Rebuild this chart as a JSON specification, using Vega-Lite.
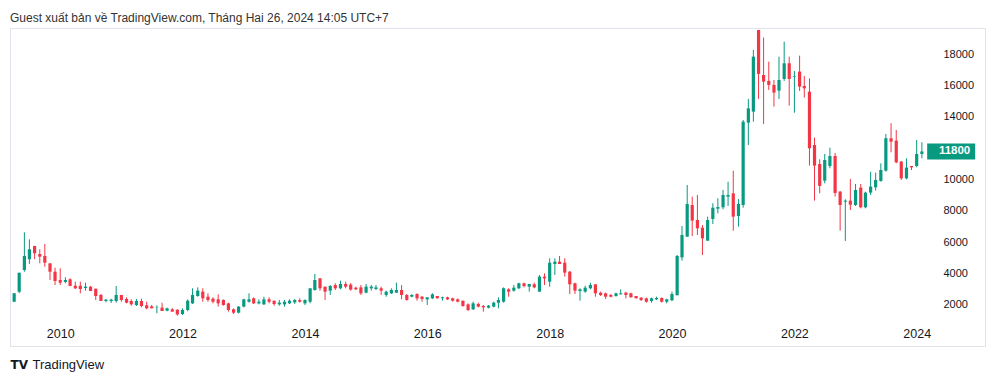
{
"$schema": "https://vega.github.io/schema/vega-lite/v6.json",
"width": 975, "height": 318,
"autosize": "none",
"padding": {"left": 10, "top": 28, "right": 11, "bottom": 36},
"background": "white",
"title": {"text": "Guest xuất bản về TradingView.com, Tháng Hai 26, 2024 14:05 UTC+7", "anchor": "start", "frame": "group", "orient": "top", "offset": 9, "dy": 15, "font": "Liberation Sans", "fontSize": 12, "fontWeight": "normal", "color": "#333333", "baseline": "alphabetic"},
"config": {"view": {"stroke": "#e0e3eb", "strokeWidth": 1}, "axis": {"grid": false}},
"resolve": {"axis": {"y": "independent"}},
"data": {"format": {"parse": {"date": "date"}}, "values": [
{"date":"2009-04-01","open":2200,"high":2750,"low":2200,"close":2750},
{"date":"2009-05-01","open":2850,"high":4060,"low":2750,"close":4060},
{"date":"2009-06-01","open":4230,"high":6640,"low":4125,"close":5130},
{"date":"2009-07-01","open":4920,"high":6190,"low":4620,"close":5555},
{"date":"2009-08-01","open":5770,"high":5770,"low":4920,"close":5300},
{"date":"2009-09-01","open":5255,"high":5555,"low":4660,"close":5085},
{"date":"2009-10-01","open":5130,"high":5895,"low":4445,"close":4700},
{"date":"2009-11-01","open":4660,"high":4660,"low":3595,"close":4125},
{"date":"2009-12-01","open":4125,"high":4380,"low":3275,"close":3530},
{"date":"2010-01-01","open":3595,"high":4345,"low":3275,"close":3425},
{"date":"2010-02-01","open":3470,"high":3770,"low":3385,"close":3595},
{"date":"2010-03-01","open":3640,"high":3705,"low":3210,"close":3210},
{"date":"2010-04-01","open":3230,"high":3490,"low":3020,"close":3065},
{"date":"2010-05-01","open":3230,"high":3490,"low":2745,"close":3020},
{"date":"2010-06-01","open":3085,"high":3425,"low":2915,"close":3170},
{"date":"2010-07-01","open":3170,"high":3210,"low":2895,"close":2895},
{"date":"2010-08-01","open":3040,"high":3040,"low":2320,"close":2575},
{"date":"2010-09-01","open":2640,"high":2700,"low":2255,"close":2255},
{"date":"2010-10-01","open":2255,"high":2385,"low":2170,"close":2340},
{"date":"2010-11-01","open":2255,"high":2400,"low":2130,"close":2340},
{"date":"2010-12-01","open":2255,"high":3210,"low":2150,"close":2640},
{"date":"2011-01-01","open":2640,"high":2640,"low":2210,"close":2320},
{"date":"2011-02-01","open":2385,"high":2490,"low":2105,"close":2150},
{"date":"2011-03-01","open":2255,"high":2365,"low":1955,"close":2045},
{"date":"2011-04-01","open":2000,"high":2385,"low":1940,"close":2255},
{"date":"2011-05-01","open":2255,"high":2400,"low":1855,"close":1935},
{"date":"2011-06-01","open":1980,"high":2210,"low":1725,"close":1790},
{"date":"2011-07-01","open":1915,"high":2000,"low":1790,"close":1790},
{"date":"2011-08-01","open":1810,"high":1980,"low":1470,"close":1830},
{"date":"2011-09-01","open":1830,"high":2145,"low":1615,"close":1615},
{"date":"2011-10-01","open":1635,"high":1830,"low":1600,"close":1790},
{"date":"2011-11-01","open":1725,"high":1800,"low":1575,"close":1575},
{"date":"2011-12-01","open":1700,"high":1720,"low":1320,"close":1400},
{"date":"2012-01-01","open":1425,"high":1785,"low":1360,"close":1680},
{"date":"2012-02-01","open":1680,"high":2360,"low":1600,"close":2275},
{"date":"2012-03-01","open":2105,"high":3065,"low":2065,"close":2640},
{"date":"2012-04-01","open":2575,"high":3125,"low":2530,"close":2915},
{"date":"2012-05-01","open":2850,"high":3065,"low":2210,"close":2425},
{"date":"2012-06-01","open":2530,"high":2745,"low":2210,"close":2320},
{"date":"2012-07-01","open":2405,"high":2490,"low":2105,"close":2210},
{"date":"2012-08-01","open":2360,"high":2680,"low":1895,"close":2105},
{"date":"2012-09-01","open":2320,"high":2360,"low":1955,"close":2000},
{"date":"2012-10-01","open":2105,"high":2150,"low":1575,"close":1680},
{"date":"2012-11-01","open":1725,"high":1785,"low":1425,"close":1510},
{"date":"2012-12-01","open":1510,"high":1935,"low":1465,"close":1895},
{"date":"2013-01-01","open":1895,"high":2405,"low":1850,"close":2360},
{"date":"2013-02-01","open":2210,"high":2745,"low":2150,"close":2360},
{"date":"2013-03-01","open":2425,"high":2490,"low":2065,"close":2105},
{"date":"2013-04-01","open":2105,"high":2360,"low":2040,"close":2210},
{"date":"2013-05-01","open":2040,"high":2530,"low":2000,"close":2360},
{"date":"2013-06-01","open":2360,"high":2490,"low":2105,"close":2210},
{"date":"2013-07-01","open":2275,"high":2275,"low":1955,"close":2065},
{"date":"2013-08-01","open":2040,"high":2320,"low":1955,"close":2150},
{"date":"2013-09-01","open":2040,"high":2320,"low":1895,"close":2210},
{"date":"2013-10-01","open":2105,"high":2360,"low":2065,"close":2275},
{"date":"2013-11-01","open":2170,"high":2385,"low":2065,"close":2320},
{"date":"2013-12-01","open":2320,"high":2425,"low":2150,"close":2210},
{"date":"2014-01-01","open":2105,"high":2360,"low":2000,"close":2320},
{"date":"2014-02-01","open":2210,"high":3065,"low":2105,"close":3065},
{"date":"2014-03-01","open":2955,"high":3980,"low":2915,"close":3595},
{"date":"2014-04-01","open":3700,"high":3700,"low":2915,"close":3065},
{"date":"2014-05-01","open":3170,"high":3170,"low":2320,"close":2850},
{"date":"2014-06-01","open":2915,"high":3275,"low":2640,"close":3210},
{"date":"2014-07-01","open":3275,"high":3385,"low":2955,"close":3065},
{"date":"2014-08-01","open":3065,"high":3555,"low":3000,"close":3340},
{"date":"2014-09-01","open":3340,"high":3490,"low":3065,"close":3170},
{"date":"2014-10-01","open":3300,"high":3400,"low":2915,"close":2980},
{"date":"2014-11-01","open":3105,"high":3170,"low":2955,"close":3000},
{"date":"2014-12-01","open":3125,"high":3275,"low":2640,"close":2745},
{"date":"2015-01-01","open":2785,"high":3340,"low":2745,"close":3170},
{"date":"2015-02-01","open":3065,"high":3275,"low":2915,"close":3170},
{"date":"2015-03-01","open":3020,"high":3275,"low":2955,"close":3125},
{"date":"2015-04-01","open":3065,"high":3170,"low":2640,"close":2915},
{"date":"2015-05-01","open":2640,"high":2915,"low":2530,"close":2850},
{"date":"2015-06-01","open":2745,"high":3065,"low":2700,"close":2955},
{"date":"2015-07-01","open":2785,"high":3425,"low":2785,"close":2955},
{"date":"2015-08-01","open":2955,"high":3275,"low":2360,"close":2640},
{"date":"2015-09-01","open":2640,"high":2700,"low":2275,"close":2320},
{"date":"2015-10-01","open":2530,"high":2700,"low":2490,"close":2640},
{"date":"2015-11-01","open":2700,"high":2745,"low":2275,"close":2425},
{"date":"2015-12-01","open":2530,"high":2575,"low":2210,"close":2385},
{"date":"2016-01-01","open":2360,"high":2490,"low":2000,"close":2490},
{"date":"2016-02-01","open":2425,"high":2745,"low":2385,"close":2680},
{"date":"2016-03-01","open":2575,"high":2575,"low":2425,"close":2425},
{"date":"2016-04-01","open":2425,"high":2530,"low":2275,"close":2490},
{"date":"2016-05-01","open":2490,"high":2530,"low":2320,"close":2360},
{"date":"2016-06-01","open":2425,"high":2470,"low":2210,"close":2275},
{"date":"2016-07-01","open":2360,"high":2425,"low":2170,"close":2210},
{"date":"2016-08-01","open":2275,"high":2275,"low":1895,"close":1935},
{"date":"2016-09-01","open":2040,"high":2105,"low":1615,"close":1680},
{"date":"2016-10-01","open":1725,"high":2210,"low":1680,"close":2105},
{"date":"2016-11-01","open":2065,"high":2150,"low":1850,"close":1895},
{"date":"2016-12-01","open":1935,"high":2000,"low":1575,"close":1850},
{"date":"2017-01-01","open":1830,"high":2000,"low":1785,"close":1955},
{"date":"2017-02-01","open":1895,"high":2210,"low":1850,"close":2150},
{"date":"2017-03-01","open":2150,"high":2490,"low":1785,"close":2320},
{"date":"2017-04-01","open":2210,"high":3125,"low":2150,"close":3065},
{"date":"2017-05-01","open":3000,"high":3065,"low":2530,"close":2850},
{"date":"2017-06-01","open":2915,"high":3275,"low":2850,"close":3105},
{"date":"2017-07-01","open":3065,"high":3425,"low":3020,"close":3385},
{"date":"2017-08-01","open":3385,"high":3425,"low":3125,"close":3210},
{"date":"2017-09-01","open":3170,"high":3340,"low":2850,"close":3340},
{"date":"2017-10-01","open":3320,"high":3425,"low":3065,"close":3125},
{"date":"2017-11-01","open":2850,"high":3915,"low":2850,"close":3810},
{"date":"2017-12-01","open":3810,"high":4020,"low":3275,"close":3700},
{"date":"2018-01-01","open":3490,"high":4980,"low":3170,"close":4700},
{"date":"2018-02-01","open":4615,"high":4980,"low":3915,"close":4765},
{"date":"2018-03-01","open":4765,"high":5130,"low":4615,"close":4615},
{"date":"2018-04-01","open":4700,"high":4980,"low":3810,"close":4065},
{"date":"2018-05-01","open":4125,"high":4170,"low":2700,"close":3320},
{"date":"2018-06-01","open":3385,"high":3425,"low":2700,"close":2915},
{"date":"2018-07-01","open":2895,"high":3065,"low":2275,"close":3000},
{"date":"2018-08-01","open":2850,"high":3235,"low":2785,"close":3105},
{"date":"2018-09-01","open":3065,"high":3425,"low":3000,"close":3275},
{"date":"2018-10-01","open":3320,"high":3320,"low":2530,"close":2745},
{"date":"2018-11-01","open":2785,"high":2850,"low":2575,"close":2640},
{"date":"2018-12-01","open":2745,"high":2785,"low":2385,"close":2530},
{"date":"2019-01-01","open":2640,"high":2700,"low":2490,"close":2530},
{"date":"2019-02-01","open":2575,"high":2785,"low":2530,"close":2745},
{"date":"2019-03-01","open":2680,"high":3000,"low":2680,"close":2745},
{"date":"2019-04-01","open":2785,"high":2850,"low":2425,"close":2640},
{"date":"2019-05-01","open":2745,"high":2785,"low":2470,"close":2490},
{"date":"2019-06-01","open":2575,"high":2575,"low":2425,"close":2425},
{"date":"2019-07-01","open":2470,"high":2490,"low":2255,"close":2320},
{"date":"2019-08-01","open":2425,"high":2470,"low":2150,"close":2210},
{"date":"2019-09-01","open":2255,"high":2470,"low":2150,"close":2425},
{"date":"2019-10-01","open":2360,"high":2530,"low":2320,"close":2445},
{"date":"2019-11-01","open":2445,"high":2490,"low":2150,"close":2210},
{"date":"2019-12-01","open":2210,"high":2405,"low":2105,"close":2360},
{"date":"2020-01-01","open":2300,"high":2850,"low":2250,"close":2700},
{"date":"2020-02-01","open":2620,"high":5190,"low":2620,"close":5130},
{"date":"2020-03-01","open":5040,"high":7040,"low":4830,"close":6470},
{"date":"2020-04-01","open":6360,"high":9660,"low":6360,"close":8445},
{"date":"2020-05-01","open":8380,"high":8915,"low":6400,"close":7385},
{"date":"2020-06-01","open":7425,"high":9020,"low":6470,"close":6895},
{"date":"2020-07-01","open":6935,"high":7105,"low":5190,"close":6255},
{"date":"2020-08-01","open":6105,"high":7640,"low":6105,"close":7425},
{"date":"2020-09-01","open":7490,"high":8490,"low":7170,"close":8210},
{"date":"2020-10-01","open":8150,"high":8810,"low":7850,"close":8250},
{"date":"2020-11-01","open":8235,"high":9340,"low":8105,"close":9020},
{"date":"2020-12-01","open":8915,"high":9870,"low":8320,"close":9020},
{"date":"2021-01-01","open":9125,"high":10570,"low":6745,"close":7640},
{"date":"2021-02-01","open":7680,"high":8765,"low":7000,"close":8445},
{"date":"2021-03-01","open":8380,"high":13810,"low":8210,"close":13700},
{"date":"2021-04-01","open":13640,"high":15150,"low":12210,"close":14550},
{"date":"2021-05-01","open":14340,"high":18280,"low":13700,"close":17850},
{"date":"2021-06-01","open":19550,"high":19550,"low":15150,"close":16745},
{"date":"2021-07-01","open":16680,"high":19065,"low":13555,"close":16255},
{"date":"2021-08-01","open":16300,"high":17530,"low":15725,"close":16045},
{"date":"2021-09-01","open":16045,"high":16360,"low":14660,"close":15555},
{"date":"2021-10-01","open":15680,"high":17850,"low":15150,"close":16360},
{"date":"2021-11-01","open":16425,"high":18810,"low":16300,"close":17425},
{"date":"2021-12-01","open":17425,"high":17850,"low":14725,"close":16425},
{"date":"2022-01-01","open":16575,"high":16935,"low":14275,"close":16615},
{"date":"2022-02-01","open":16895,"high":17915,"low":15660,"close":15935},
{"date":"2022-03-01","open":15980,"high":16615,"low":15235,"close":15830},
{"date":"2022-04-01","open":15615,"high":16470,"low":10895,"close":12000},
{"date":"2022-05-01","open":12210,"high":12680,"low":8660,"close":10895},
{"date":"2022-06-01","open":11000,"high":11300,"low":9130,"close":9600},
{"date":"2022-07-01","open":9935,"high":11640,"low":9765,"close":11255},
{"date":"2022-08-01","open":10870,"high":12040,"low":10725,"close":11510},
{"date":"2022-09-01","open":11510,"high":11700,"low":8915,"close":9150},
{"date":"2022-10-01","open":9235,"high":9275,"low":6745,"close":8380},
{"date":"2022-11-01","open":8595,"high":8745,"low":6085,"close":8660},
{"date":"2022-12-01","open":8660,"high":10040,"low":8065,"close":8405},
{"date":"2023-01-01","open":8380,"high":9725,"low":8320,"close":9340},
{"date":"2023-02-01","open":9490,"high":9725,"low":8170,"close":8235},
{"date":"2023-03-01","open":8235,"high":9235,"low":8170,"close":9170},
{"date":"2023-04-01","open":9170,"high":10510,"low":9020,"close":9555},
{"date":"2023-05-01","open":9510,"high":10445,"low":9300,"close":9980},
{"date":"2023-06-01","open":9915,"high":11040,"low":9870,"close":10615},
{"date":"2023-07-01","open":10575,"high":12915,"low":10510,"close":12640},
{"date":"2023-08-01","open":12640,"high":13595,"low":11745,"close":12425},
{"date":"2023-09-01","open":12490,"high":13170,"low":11040,"close":11105},
{"date":"2023-10-01","open":11150,"high":11190,"low":9980,"close":10085},
{"date":"2023-11-01","open":10085,"high":11360,"low":10020,"close":10765},
{"date":"2023-12-01","open":10870,"high":10870,"low":10615,"close":10785},
{"date":"2024-01-01","open":10870,"high":12530,"low":10785,"close":11640},
{"date":"2024-02-01","open":11640,"high":12385,"low":11360,"close":11800}
]},
"encoding": {
  "x": {"field": "date", "type": "temporal",
    "scale": {"type": "utc", "domain": [{"year": 2009, "month": 4, "date": 6, "utc": true}, {"year": 2025, "month": 1, "date": 13, "utc": true}]},
    "axis": {"orient": "bottom", "offset": -13, "domain": false, "ticks": false, "tickSize": 0, "labelPadding": 0, "labelBaseline": "middle", "format": "%Y", "formatType": "utc",
      "values": [{"year": 2010, "month": 1, "date": 1, "utc": true}, {"year": 2012, "month": 1, "date": 1, "utc": true}, {"year": 2014, "month": 1, "date": 1, "utc": true}, {"year": 2016, "month": 1, "date": 1, "utc": true}, {"year": 2018, "month": 1, "date": 1, "utc": true}, {"year": 2020, "month": 1, "date": 1, "utc": true}, {"year": 2022, "month": 1, "date": 1, "utc": true}, {"year": 2024, "month": 1, "date": 1, "utc": true}],
      "labelFont": "Liberation Sans", "labelFontSize": 12.5, "labelColor": "#131722", "labelFlush": false, "labelOverlap": false,
      "title": "TradingView", "titleX": 22, "titleY": 31, "titleAlign": "left", "titleAnchor": "start", "titleBaseline": "middle", "titleFont": "Liberation Sans", "titleFontSize": 13, "titleFontWeight": "normal", "titleColor": "#131722"}
  }
},
"layer": [
  {"mark": {"type": "rule", "strokeWidth": 1, "clip": true},
   "encoding": {
     "y": {"field": "low", "type": "quantitative", "scale": {"domain": [-617, 19678], "nice": false, "zero": false},
       "axis": {"orient": "right", "offset": -42, "values": [2000, 4000, 6000, 8000, 10000, 12000, 14000, 16000, 18000], "domain": false, "ticks": false, "tickSize": 0, "labelPadding": 0, "labelAlign": "left", "labelBaseline": "middle", "format": "d", "labelFont": "Liberation Sans", "labelFontSize": 11, "labelColor": "#131722", "labelFlush": false, "labelOverlap": false,
         "title": "TV", "titleAngle": 0, "titleX": -933, "titleY": 336, "titleAlign": "left", "titleBaseline": "middle", "titleFont": "DejaVu Sans", "titleFontSize": 12, "titleFontWeight": "bold", "titleColor": "#131722"}},
     "y2": {"field": "high"},
     "color": {"condition": {"test": "datum.close >= datum.open", "value": "#089981"}, "value": "#F23645"}
   }},
  {"mark": {"type": "bar", "size": 3.2, "clip": true},
   "encoding": {
     "y": {"field": "open", "type": "quantitative", "axis": null},
     "y2": {"field": "close"},
     "color": {"condition": {"test": "datum.close >= datum.open", "value": "#089981"}, "value": "#F23645"}
   }},
  {"transform": [{"joinaggregate": [{"op": "max", "field": "date", "as": "lastDate"}]}, {"filter": "time(datum.date) == time(datum.lastDate)"}],
   "mark": {"type": "point", "shape": "M-1.5,-0.5H1.5V0.5H-1.5Z", "size": 1024, "filled": true, "color": "#089981", "opacity": 1, "xOffset": 29.3, "strokeWidth": 0},
   "encoding": {"y": {"field": "close", "type": "quantitative", "axis": null}}},
  {"transform": [{"joinaggregate": [{"op": "max", "field": "date", "as": "lastDate"}]}, {"filter": "time(datum.date) == time(datum.lastDate)"}],
   "mark": {"type": "text", "dx": 17, "align": "left", "baseline": "middle", "font": "Liberation Sans", "fontSize": 11.5, "fontWeight": "bold", "color": "white"},
   "encoding": {"y": {"field": "close", "type": "quantitative", "axis": null}, "text": {"field": "close", "type": "quantitative", "format": "d"}}}
]
}
